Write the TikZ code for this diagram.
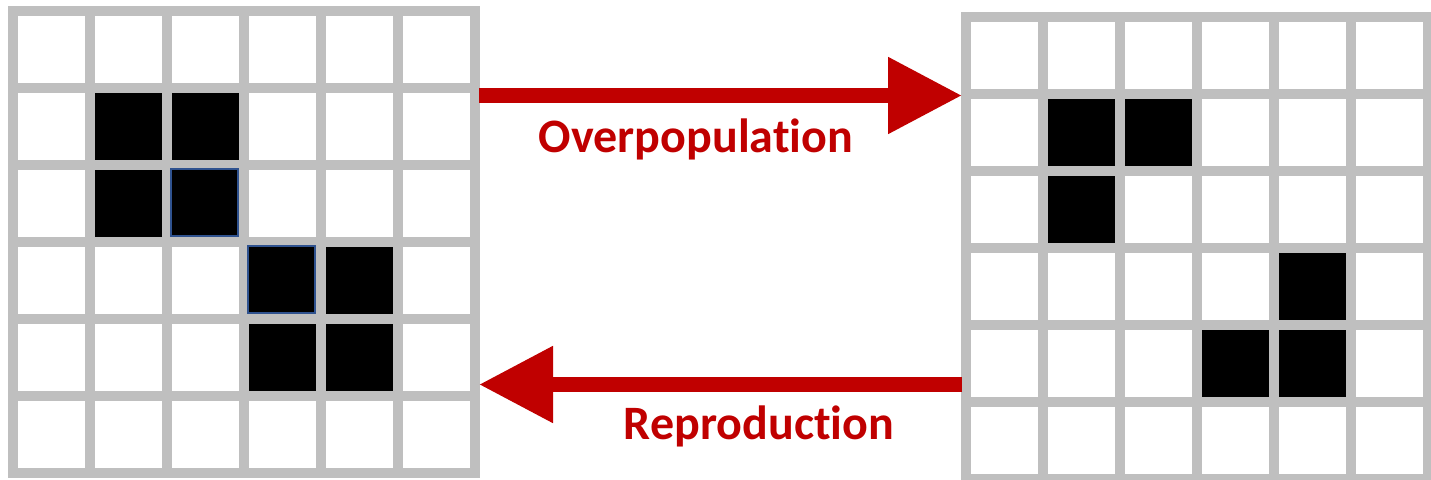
\documentclass[tikz,border=0pt]{standalone}
\usepackage{fontspec}
\newfontfamily\labelfont[Ligatures={NoCommon}]{Carlito}
\usetikzlibrary{arrows.meta}
\definecolor{gridgray}{RGB}{191,191,191}
\definecolor{darkred}{RGB}{192,0,0}
\definecolor{cellblue}{RGB}{47,82,143}
\tikzset{
  gridline/.style={draw=gridgray, line width=10pt},
  live/.style={fill=black},
  marked/.style={draw=cellblue, line width=2pt},
  bigarrow/.style={draw=darkred, line width=15pt,
    -{Triangle[length=74pt,width=73pt]}},
  caption/.style={text=darkred, anchor=base, inner sep=0pt,
    font=\labelfont\bfseries\fontsize{48}{48}\selectfont},
}
% 6x6 board: lines of the lattice, cell pitch 77, line width 10
\newcommand\boardlines{%
  \foreach \k in {0,...,6}{
    \draw[gridline] (5+77*\k,0) -- (5+77*\k,472);
    \draw[gridline] (0,5+77*\k) -- (472,5+77*\k);
  }}
% a living cell at column #1, row #2
\newcommand\livecell[2]{%
  \fill[live] (10+77*#1,10+77*#2) rectangle (77+77*#1,77+77*#2);}
\newcommand\markcell[2]{%
  \draw[marked] (9+77*#1,9+77*#2) rectangle (76+77*#1,76+77*#2);}
\begin{document}
\begin{tikzpicture}[x=1pt,y=-1pt]
  \useasboundingbox (0,0) rectangle (1431,479);
  \clip (0,0) rectangle (1431,479);

  % generation before
  \begin{scope}[shift={(8,6)}]
    \boardlines
    \foreach \c/\r in {1/1,2/1,1/2,2/2,3/3,4/3,3/4,4/4}{\livecell{\c}{\r}}
    \markcell{2}{2}
    \markcell{3}{3}
  \end{scope}

  % generation after
  \begin{scope}[shift={(961,12)}]
    \boardlines
    \foreach \c/\r in {1/1,2/1,1/2,4/3,3/4,4/4}{\livecell{\c}{\r}}
  \end{scope}

  % connector end points on the board edges
  \coordinate (leftTop) at (479,95.5);
  \coordinate (rightTop) at (962,95.5);
  \coordinate (leftBot) at (479,384.5);
  \coordinate (rightBot) at (962,384.5);

  \draw[bigarrow] (leftTop) -- (rightTop);
  \draw[bigarrow] (rightBot) -- (leftBot);

  \node[caption] (over) at (696,152) {Overpopulation};
  \node[caption] (repro) at (759,439) {Reproduction};
\end{tikzpicture}
\end{document}
